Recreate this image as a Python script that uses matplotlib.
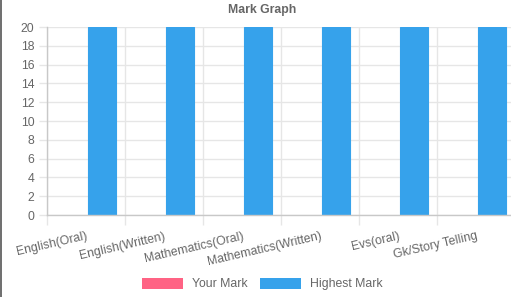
import matplotlib.pyplot as plt
import numpy as np
from matplotlib.patches import Patch

# datos
materias = ['English(Oral)', 'English(Written)', 'Mathematics(Oral)',
            'Mathematics(Written)', 'Evs(oral)', 'Gk/Story Telling']
tu_nota = [0, 0, 0, 0, 0, 0]
nota_maxima = [20, 20, 20, 20, 20, 20]
y_ticks = list(range(0, 21, 2))

plt.rcParams['font.family'] = ['Liberation Sans', 'DejaVu Sans']
gris = '#666666'
fs = 8.8

fig = plt.figure(figsize=(5.11, 2.97), dpi=100)
ax = fig.add_axes([47 / 511, 82 / 297, 468 / 511, 188 / 297])

x = np.arange(len(materias))
ancho = 0.8 / 2 * 0.9
ax.bar(x - 0.2, tu_nota, width=ancho, color='#ff6384', label='Your Mark')
ax.bar(x + 0.2, nota_maxima, width=ancho, color='#36a2eb', edgecolor='#36a2eb',
       linewidth=0.8, label='Highest Mark')

ax.set_xlim(-0.5, len(materias) - 0.5)
ax.set_ylim(0, 20)
ax.set_yticks(y_ticks)
ax.set_yticklabels([str(v) for v in y_ticks], fontsize=fs, color=gris)

# rejilla vertical en los límites de categoría
ax.set_xticks(np.arange(len(materias) + 1) - 0.5, minor=True)
ax.set_xticks(x)
ax.set_xticklabels(materias, fontsize=fs, color=gris, rotation=13,
                   ha='right', va='top', rotation_mode='anchor')
ax.tick_params(axis='x', which='major', length=0, pad=11)
ax.tick_params(axis='x', which='minor', length=7, color='#e6e6e6', width=1)
ax.tick_params(axis='y', length=6, color='#e6e6e6', width=1, pad=3)
ax.grid(True, axis='y', color='#e6e6e6', linewidth=1)
ax.grid(True, axis='x', which='minor', color='#e6e6e6', linewidth=1)
ax.set_axisbelow(True)

for lado in ['top', 'right']:
    ax.spines[lado].set_visible(False)
for lado in ['left', 'bottom']:
    ax.spines[lado].set_color('#c8c8c8')
    ax.spines[lado].set_linewidth(1)

fig.text(262 / 511, 1 - 10 / 297, 'Mark Graph', ha='center', va='center',
         fontsize=fs, fontweight='bold', color=gris)

manejadores = [Patch(facecolor='#ff6384', label='Your Mark'),
               Patch(facecolor='#36a2eb', label='Highest Mark')]
leg = fig.legend(handles=manejadores, loc='center', bbox_to_anchor=(262 / 511, 1 - 284 / 297),
                 ncol=2, frameon=False, fontsize=fs, handlelength=3.4, handleheight=1.08,
                 columnspacing=1.0, handletextpad=0.7)
for t in leg.get_texts():
    t.set_color(gris)

# borde izquierdo de la imagen
fig.add_artist(plt.Line2D([0.001, 0.001], [0, 1], color='#555555', linewidth=1.2,
                          transform=fig.transFigure))

fig.savefig('out.png', dpi=100)
